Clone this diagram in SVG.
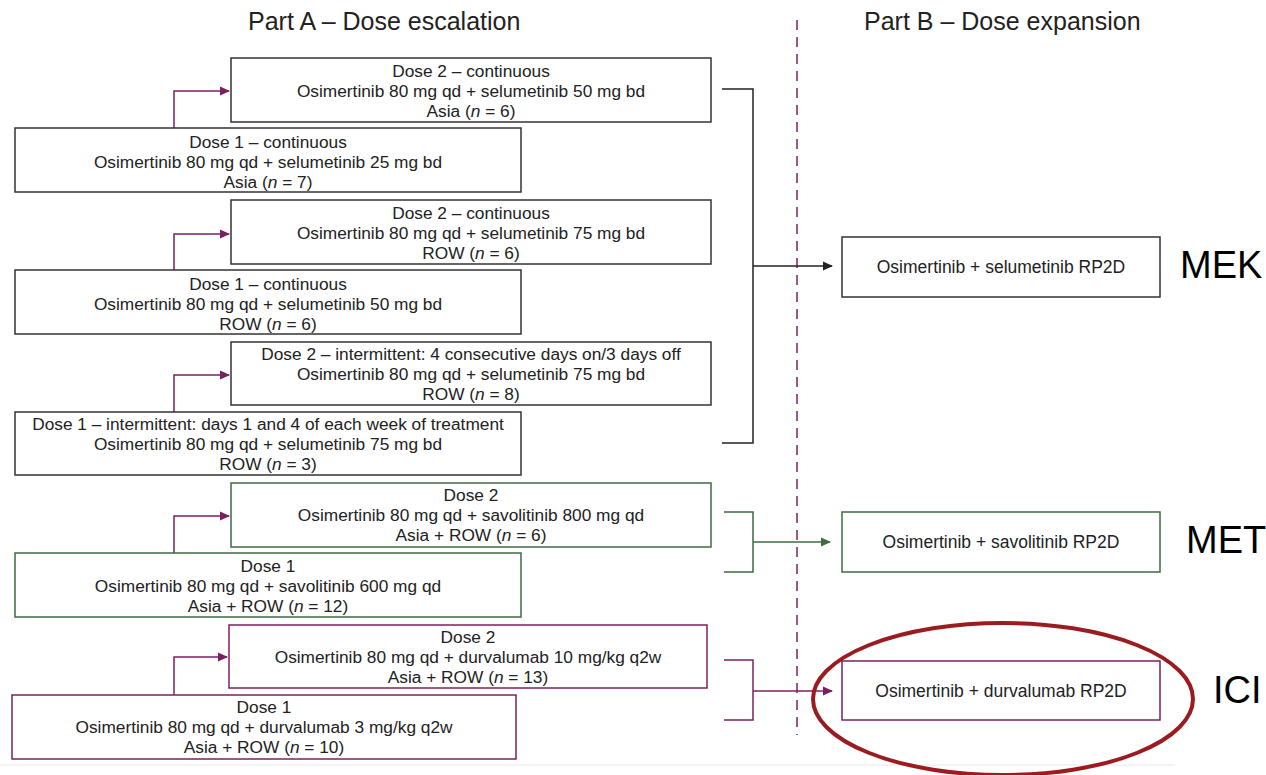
<svg xmlns="http://www.w3.org/2000/svg" width="1266" height="775" viewBox="0 0 1266 775">
<defs>
<style>
text{font-family:"Liberation Sans",Arial,sans-serif;fill:#222;}
.t{font-size:17.3px;text-anchor:middle;}
.h{font-size:25px;}
.big{font-size:38px;fill:#000;}
.rp{font-size:17.5px;text-anchor:middle;}
.bk{fill:#fff;stroke:#333;stroke-width:1.5;}
.gr{fill:#fff;stroke:#3f6b3f;stroke-width:1.5;}
.pu{fill:#fff;stroke:#7a2060;stroke-width:1.5;}
.cb{fill:none;stroke:#222;stroke-width:1.5;}
.cg{fill:none;stroke:#3f6b3f;stroke-width:1.5;}
.cp{fill:none;stroke:#7a2060;stroke-width:1.5;}
</style>
<marker id="ab" markerWidth="10" markerHeight="10" refX="9" refY="5" orient="auto" markerUnits="userSpaceOnUse"><path d="M0,0.5 L10,5 L0,9.5 Z" fill="#222"/></marker>
<marker id="ag" markerWidth="10" markerHeight="10" refX="9" refY="5" orient="auto" markerUnits="userSpaceOnUse"><path d="M0,0.5 L10,5 L0,9.5 Z" fill="#3f6b3f"/></marker>
<marker id="ap" markerWidth="10" markerHeight="10" refX="9" refY="5" orient="auto" markerUnits="userSpaceOnUse"><path d="M0,0.5 L10,5 L0,9.5 Z" fill="#7a2060"/></marker>
</defs>
<rect width="1266" height="775" fill="#fff"/>
<text class="h" x="248" y="30">Part A – Dose escalation</text>
<text class="h" x="864" y="30">Part B – Dose expansion</text>
<line x1="0" y1="765" x2="1175" y2="765" stroke="#e6e6e6" stroke-width="1"/>
<line x1="797" y1="20" x2="797" y2="735" stroke="#7a2060" stroke-width="1.5" stroke-dasharray="10,7"/>

<g id="connectors">
<path class="cp" d="M174,128 V91 H229" marker-end="url(#ap)"/>
<path class="cp" d="M174,270 V234 H229" marker-end="url(#ap)"/>
<path class="cp" d="M174,412 V375 H229" marker-end="url(#ap)"/>
<path class="cp" d="M174,553 V516 H229" marker-end="url(#ap)"/>
<path class="cp" d="M174,695 V657 H227" marker-end="url(#ap)"/>
<path class="cb" d="M722,89 H753 V443 H722"/>
<path class="cb" d="M753,266 H832" marker-end="url(#ab)"/>
<path class="cg" d="M724,512 H753 V572 H724"/>
<path class="cg" d="M753,542 H830" marker-end="url(#ag)"/>
<path class="cp" d="M724,660 H753 V720 H724"/>
<path class="cp" d="M753,691 H832" marker-end="url(#ap)"/>
</g>

<g id="mek-d2-asia">
<rect class="bk" x="231" y="58" width="480" height="64"/>
<text class="t" x="471" y="77">Dose 2 – continuous</text>
<text class="t" x="471" y="97">Osimertinib 80 mg qd + selumetinib 50 mg bd</text>
<text class="t" x="471" y="117">Asia (<tspan font-style="italic">n</tspan> = 6)</text>
</g>
<g id="mek-d1-asia">
<rect class="bk" x="15" y="128" width="506" height="64"/>
<text class="t" x="268" y="148">Dose 1 – continuous</text>
<text class="t" x="268" y="168">Osimertinib 80 mg qd + selumetinib 25 mg bd</text>
<text class="t" x="268" y="188">Asia (<tspan font-style="italic">n</tspan> = 7)</text>
</g>
<g id="mek-d2-row">
<rect class="bk" x="231" y="200" width="480" height="64"/>
<text class="t" x="471" y="219">Dose 2 – continuous</text>
<text class="t" x="471" y="239">Osimertinib 80 mg qd + selumetinib 75 mg bd</text>
<text class="t" x="471" y="259">ROW (<tspan font-style="italic">n</tspan> = 6)</text>
</g>
<g id="mek-d1-row">
<rect class="bk" x="15" y="270" width="506" height="64"/>
<text class="t" x="268" y="290">Dose 1 – continuous</text>
<text class="t" x="268" y="310">Osimertinib 80 mg qd + selumetinib 50 mg bd</text>
<text class="t" x="268" y="330">ROW (<tspan font-style="italic">n</tspan> = 6)</text>
</g>
<g id="mek-d2-int">
<rect class="bk" x="231" y="342" width="480" height="63"/>
<text class="t" x="471" y="360">Dose 2 – intermittent: 4 consecutive days on/3 days off</text>
<text class="t" x="471" y="380">Osimertinib 80 mg qd + selumetinib 75 mg bd</text>
<text class="t" x="471" y="400">ROW (<tspan font-style="italic">n</tspan> = 8)</text>
</g>
<g id="mek-d1-int">
<rect class="bk" x="15" y="412" width="506" height="63"/>
<text class="t" x="268" y="430">Dose 1 – intermittent: days 1 and 4 of each week of treatment</text>
<text class="t" x="268" y="450">Osimertinib 80 mg qd + selumetinib 75 mg bd</text>
<text class="t" x="268" y="470">ROW (<tspan font-style="italic">n</tspan> = 3)</text>
</g>
<g id="met-d2">
<rect class="gr" x="231" y="483" width="480" height="64"/>
<text class="t" x="471" y="501">Dose 2</text>
<text class="t" x="471" y="521">Osimertinib 80 mg qd + savolitinib 800 mg qd</text>
<text class="t" x="471" y="541">Asia + ROW (<tspan font-style="italic">n</tspan> = 6)</text>
</g>
<g id="met-d1">
<rect class="gr" x="15" y="553" width="506" height="64"/>
<text class="t" x="268" y="572">Dose 1</text>
<text class="t" x="268" y="592">Osimertinib 80 mg qd + savolitinib 600 mg qd</text>
<text class="t" x="268" y="612">Asia + ROW (<tspan font-style="italic">n</tspan> = 12)</text>
</g>
<g id="ici-d2">
<rect class="pu" x="229" y="625" width="478" height="63"/>
<text class="t" x="468" y="643">Dose 2</text>
<text class="t" x="468" y="663">Osimertinib 80 mg qd + durvalumab 10 mg/kg q2w</text>
<text class="t" x="468" y="683">Asia + ROW (<tspan font-style="italic">n</tspan> = 13)</text>
</g>
<g id="ici-d1">
<rect class="pu" x="12" y="695" width="504" height="64"/>
<text class="t" x="264" y="713">Dose 1</text>
<text class="t" x="264" y="733">Osimertinib 80 mg qd + durvalumab 3 mg/kg q2w</text>
<text class="t" x="264" y="753">Asia + ROW (<tspan font-style="italic">n</tspan> = 10)</text>
</g>
<g id="mek-rp2d">
<rect class="bk" x="842" y="237" width="318" height="60"/>
<text class="rp" x="1001" y="273">Osimertinib + selumetinib RP2D</text>
</g>
<g id="met-rp2d">
<rect class="gr" x="842" y="512" width="318" height="60"/>
<text class="rp" x="1001" y="548">Osimertinib + savolitinib RP2D</text>
</g>
<g id="ici-rp2d">
<rect class="pu" x="842" y="661" width="318" height="59"/>
<text class="rp" x="1001" y="697">Osimertinib + durvalumab RP2D</text>
</g>
<ellipse cx="1003" cy="699" rx="190" ry="76" fill="none" stroke="#9b1c20" stroke-width="4"/>
<text class="big" x="1180" y="278">MEK</text>
<text class="big" x="1186" y="553">MET</text>
<text class="big" x="1213" y="703">ICI</text>
</svg>
